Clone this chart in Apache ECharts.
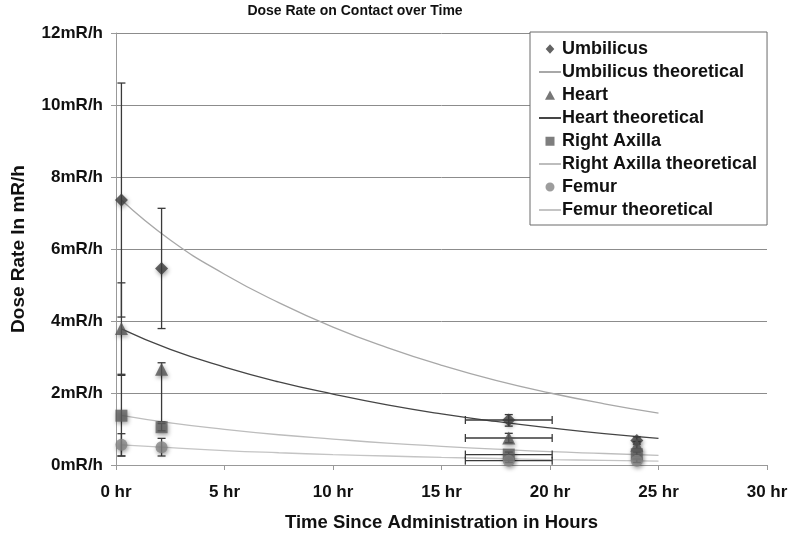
<!DOCTYPE html>
<html><head><meta charset="utf-8">
<script src="https://cdn.jsdelivr.net/npm/echarts@6/dist/echarts.min.js"></script>
<style>html,body{margin:0;padding:0;background:#fff}#c{width:792px;height:534px}</style>
</head><body><div id="c"></div>
<script>
// ---- data ----
const measuredX = [0.25, 2.1, 18.1, 24.0];
const umbilicusY = [7.36, 5.46, 1.25, 0.68];
const umbilicusLow = [4.11, 3.79, 1.08, 0.58];
const umbilicusHigh = [10.61, 7.13, 1.40, 0.78];
const heartY = [3.79, 2.66, 0.75, 0.55];
const heartLow = [2.52, 1.20, 0.62, 0.45];
const heartHigh = [5.06, 2.84, 0.88, 0.65];
const axillaY = [1.37, 1.05, 0.29, 0.30];
const axillaLow = [0.25, 0.95, 0.22, 0.24];
const axillaHigh = [2.49, 1.15, 0.36, 0.36];
const femurY = [0.56, 0.49, 0.12, 0.12];
const femurLow = [0.25, 0.25, 0.07, 0.07];
const femurHigh = [0.87, 0.74, 0.17, 0.17];
const xErrLow = [0.25, 2.1, 16.1, 24.0];
const xErrHigh = [0.25, 2.1, 20.1, 24.0];

const theoX = [0.25, 2.5, 5, 7.5, 10, 12.5, 15, 17.5, 20, 22.5, 25];
const umbilicusTheo = [7.36, 6.25, 5.30, 4.51, 3.83, 3.26, 2.77, 2.35, 2.00, 1.70, 1.44];
const heartTheo = [3.78, 3.21, 2.72, 2.31, 1.97, 1.67, 1.42, 1.21, 1.03, 0.87, 0.74];
const axillaTheo = [1.38, 1.17, 0.99, 0.84, 0.72, 0.61, 0.52, 0.44, 0.37, 0.32, 0.27];
const femurTheo = [0.56, 0.48, 0.40, 0.34, 0.29, 0.25, 0.21, 0.18, 0.15, 0.13, 0.11];

const xTicks = {min: 0, max: 30, step: 5, unit: ' hr'};
const yTicks = {min: 0, max: 12, step: 2, unit: 'mR/h'};
const legendNames = ['Umbilicus', 'Umbilicus theoretical', 'Heart', 'Heart theoretical',
  'Right Axilla', 'Right Axilla theoretical', 'Femur', 'Femur theoretical'];

// ---- build ----
const FONT = '"Liberation Sans", Arial, sans-serif';
const pairs = (xs, ys) => xs.map((x, i) => [x, ys[i]]);
const errData = (ys, lo, hi) => measuredX.map((x, i) => [x, ys[i], lo[i], hi[i], xErrLow[i], xErrHigh[i]]);

// legend marker icons drawn inside a 22x10 box (tiny corner specks fix the box size)
const BOX = 'M0,0L0.01,0L0,0.01Z M22,10L21.99,10L22,9.99Z ';
const legendIcons = [
  'path://' + BOX + 'M11,0.3L15.3,5L11,9.7L6.7,5Z', null,
  'path://' + BOX + 'M11,0.5L16,9.8L6,9.8Z', null,
  'path://' + BOX + 'M6.5,0.8L15.5,0.8L15.5,9.8L6.5,9.8Z', null,
  'path://' + BOX + 'M11,0.5A4.5,4.5,0,1,1,10.99,0.5Z', null
];

function errRender(params, api) {
  const x = api.value(0), lo = api.value(2), hi = api.value(3), xl = api.value(4), xh = api.value(5);
  const y = api.value(1);
  const style = {stroke: '#3a3a3a', lineWidth: 1.3};
  const cap = 4;
  const children = [];
  if (hi > lo) {
    const a = api.coord([x, hi]), b = api.coord([x, lo]);
    children.push({type: 'line', shape: {x1: a[0], y1: a[1], x2: b[0], y2: b[1]}, style});
    children.push({type: 'line', shape: {x1: a[0] - cap, y1: a[1], x2: a[0] + cap, y2: a[1]}, style});
    children.push({type: 'line', shape: {x1: b[0] - cap, y1: b[1], x2: b[0] + cap, y2: b[1]}, style});
  }
  if (xh > xl) {
    const a = api.coord([xl, y]), b = api.coord([xh, y]);
    children.push({type: 'line', shape: {x1: a[0], y1: a[1], x2: b[0], y2: b[1]}, style});
    children.push({type: 'line', shape: {x1: a[0], y1: a[1] - cap, x2: a[0], y2: a[1] + cap}, style});
    children.push({type: 'line', shape: {x1: b[0], y1: b[1] - cap, x2: b[0], y2: b[1] + cap}, style});
  }
  return {type: 'group', children};
}

const shadow = {shadowBlur: 4, shadowColor: 'rgba(0,0,0,0.45)', shadowOffsetX: 1, shadowOffsetY: 2};
function scatter(name, ys, symbol, color, size) {
  return {name, type: 'scatter', data: pairs(measuredX, ys), symbol, symbolSize: size,
    itemStyle: Object.assign({color}, shadow), z: 5};
}
function theo(name, ys, color) {
  return {name, type: 'line', data: pairs(theoX, ys), symbol: 'none', smooth: true,
    lineStyle: {color, width: 1.3}, itemStyle: {color}, z: 3};
}
function errSeries(ys, lo, hi) {
  return {type: 'custom', renderItem: errRender, data: errData(ys, lo, hi), z: 4, silent: true};
}

const legendData = legendNames.map((n, i) => legendIcons[i]
  ? {name: n, icon: legendIcons[i], itemStyle: {shadowBlur: 0, shadowOffsetX: 0, shadowOffsetY: 0}}
  : {name: n, itemStyle: {opacity: 0}});

const chart = echarts.init(document.getElementById('c'));
chart.setOption({
  animation: false,
  backgroundColor: '#fff',
  textStyle: {fontFamily: FONT},
  title: {text: 'Dose Rate on Contact over Time', left: 350, top: -1, textAlign: 'center',
    textStyle: {fontFamily: FONT, fontSize: 14, fontWeight: 'bold', color: '#111'}},
  grid: {left: 116, right: 25, top: 33, bottom: 69, outerBoundsMode: 'none', containLabel: false},
  legend: {data: legendData, orient: 'vertical', left: 530, top: 32, itemGap: 5,
    itemWidth: 22, itemHeight: 10, padding: [8, 10, 6, 8],
    backgroundColor: '#fff', borderColor: '#6a6a6a', borderWidth: 1,
    textStyle: {fontFamily: FONT, fontSize: 18, fontWeight: 'bold', color: '#111', padding: [0, 0, 0, -4]}},
  xAxis: {type: 'value', min: xTicks.min, max: xTicks.max, interval: xTicks.step,
    name: 'Time Since Administration in Hours', nameLocation: 'middle', nameGap: 48,
    nameTextStyle: {fontFamily: FONT, fontSize: 18.5, fontWeight: 'bold', color: '#111'},
    axisLine: {lineStyle: {color: '#999'}}, axisTick: {lineStyle: {color: '#999'}, length: 5},
    axisLabel: {formatter: v => v + xTicks.unit, fontFamily: FONT, fontSize: 17, fontWeight: 'bold', color: '#111', margin: 19},
    splitLine: {show: false}},
  yAxis: {type: 'value', min: yTicks.min, max: yTicks.max, interval: yTicks.step,
    name: 'Dose Rate In mR/h', nameLocation: 'middle', nameGap: 88, nameRotate: 90,
    nameTextStyle: {fontFamily: FONT, fontSize: 19, fontWeight: 'bold', color: '#111'},
    axisLine: {show: true, lineStyle: {color: '#999'}}, axisTick: {show: true, lineStyle: {color: '#999'}, length: 5},
    axisLabel: {formatter: v => v + yTicks.unit, fontFamily: FONT, fontSize: 17, fontWeight: 'bold', color: '#111', margin: 13},
    splitLine: {lineStyle: {color: '#8c8c8c', width: 1}}},
  series: [
    errSeries(umbilicusY, umbilicusLow, umbilicusHigh),
    errSeries(heartY, heartLow, heartHigh),
    errSeries(axillaY, axillaLow, axillaHigh),
    errSeries(femurY, femurLow, femurHigh),
    scatter('Umbilicus', umbilicusY, 'diamond', '#3c3c3c', 13),
    theo('Umbilicus theoretical', umbilicusTheo, '#a8a8a8'),
    scatter('Heart', heartY, 'triangle', '#555555', 13),
    theo('Heart theoretical', heartTheo, '#454545'),
    scatter('Right Axilla', axillaY, 'rect', '#5e5e5e', 12),
    theo('Right Axilla theoretical', axillaTheo, '#bdbdbd'),
    scatter('Femur', femurY, 'circle', '#848484', 12),
    theo('Femur theoretical', femurTheo, '#c4c4c4')
  ]
});
</script></body></html>
